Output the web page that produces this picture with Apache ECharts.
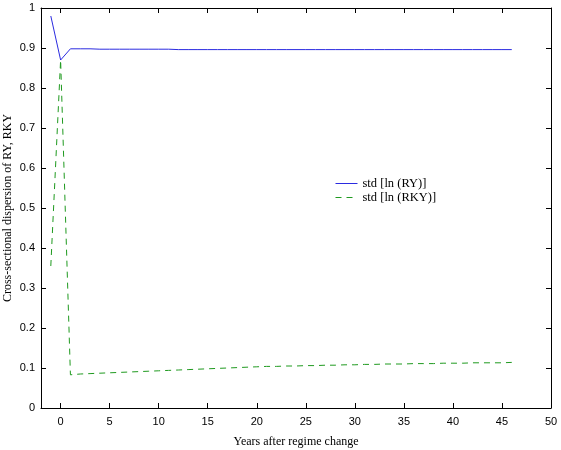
<!DOCTYPE html>
<html>
<head>
<meta charset="utf-8">
<script src="https://cdn.jsdelivr.net/npm/echarts@6/dist/echarts.min.js"></script>
<style>
  html, body { margin: 0; padding: 0; background: #fff; }
  #chart { width: 561px; height: 450px; }
</style>
</head>
<body>
<div id="chart"></div>
<script>
const years = [-1, 0, 1, 2, 3, 4, 5, 6, 7, 8, 9, 10, 11, 12, 13, 14, 15, 16, 17, 18, 19, 20,
  21, 22, 23, 24, 25, 26, 27, 28, 29, 30, 31, 32, 33, 34, 35, 36, 37, 38, 39, 40,
  41, 42, 43, 44, 45, 46];
const stdRY = [0.980, 0.870, 0.898, 0.898, 0.898, 0.897, 0.897, 0.897, 0.897, 0.897, 0.897,
  0.897, 0.897, 0.896, 0.896, 0.896, 0.896, 0.896, 0.896, 0.896, 0.896, 0.896, 0.896,
  0.896, 0.896, 0.896, 0.896, 0.896, 0.896, 0.896, 0.896, 0.896, 0.896, 0.896, 0.896,
  0.896, 0.896, 0.896, 0.896, 0.896, 0.896, 0.896, 0.896, 0.896, 0.896, 0.896, 0.896, 0.896];
const stdRKY = [0.355, 0.870, 0.083, 0.085, 0.086, 0.087, 0.088, 0.089, 0.090, 0.091, 0.092,
  0.093, 0.094, 0.095, 0.096, 0.097, 0.098, 0.099, 0.100, 0.101, 0.102, 0.103, 0.104,
  0.104, 0.105, 0.105, 0.106, 0.106, 0.107, 0.107, 0.108, 0.108, 0.109, 0.109, 0.110,
  0.110, 0.110, 0.111, 0.111, 0.111, 0.112, 0.112, 0.112, 0.113, 0.113, 0.113, 0.113, 0.114];
const xTicks = [0, 5, 10, 15, 20, 25, 30, 35, 40, 45, 50];
const seriesNames = ['std [ln (RY)]', 'std [ln (RKY)]'];

const chart = echarts.init(document.getElementById('chart'));

const zip = (ys) => years.map((x, i) => [x, ys[i]]);
const serif = '"Liberation Serif", "DejaVu Serif", serif';
const sans = '"Liberation Sans", Arial, sans-serif';

const tickStyle = { show: true, inside: true, length: 5, lineStyle: { color: '#000' } };
const lineStyleBlack = { show: true, onZero: false, lineStyle: { color: '#000', width: 1 } };

chart.setOption({
  animation: false,
  backgroundColor: '#fff',
  grid: { left: 41, right: 10, top: 8, bottom: 42, outerBoundsMode: 'none', containLabel: false },
  legend: {
    orient: 'vertical',
    left: 330,
    top: 172,
    itemGap: 1,
    itemWidth: 22,
    itemHeight: 12,
    itemStyle: { opacity: 0 },
    lineStyle: { width: 1 },
    textStyle: { fontFamily: serif, fontSize: 12.5, color: '#000' },
    data: seriesNames
  },
  xAxis: [{
    type: 'value',
    min: -2, max: 50,
    name: 'Years after regime change',
    nameLocation: 'middle',
    nameGap: 28,
    nameMoveOverlap: false,
    nameTextStyle: { fontFamily: serif, fontSize: 12, color: '#000' },
    axisLine: lineStyleBlack,
    axisTick: { ...tickStyle, customValues: xTicks },
    axisLabel: { fontFamily: sans, fontSize: 11, color: '#000', customValues: xTicks },
    splitLine: { show: false }
  }, {
    type: 'value', position: 'top', min: -2, max: 50,
    axisLine: lineStyleBlack,
    axisTick: { ...tickStyle, customValues: xTicks },
    axisLabel: { show: false },
    splitLine: { show: false }
  }],
  yAxis: [{
    type: 'value',
    min: 0, max: 1, interval: 0.1,
    name: 'Cross-sectional dispersion of RY, RKY',
    nameLocation: 'middle',
    nameGap: 27,
    nameMoveOverlap: false,
    nameTextStyle: { fontFamily: serif, fontSize: 12, color: '#000' },
    axisLine: lineStyleBlack,
    axisTick: tickStyle,
    axisLabel: {
      fontFamily: sans, fontSize: 11, color: '#000', margin: 6,
      formatter: (v) => (v === 0 || v === 1) ? String(v) : v.toFixed(1)
    },
    splitLine: { show: false }
  }, {
    type: 'value', position: 'right', min: 0, max: 1, interval: 0.1,
    axisLine: lineStyleBlack,
    axisTick: tickStyle,
    axisLabel: { show: false },
    splitLine: { show: false }
  }],
  series: [
    {
      name: seriesNames[0],
      type: 'line',
      symbol: 'none',
      data: zip(stdRY),
      itemStyle: { color: '#2b2be0' },
      lineStyle: { color: '#2b2be0', width: 1 }
    },
    {
      name: seriesNames[1],
      type: 'line',
      symbol: 'none',
      data: zip(stdRKY),
      itemStyle: { color: '#1f9a1f' },
      lineStyle: { color: '#1f9a1f', width: 1, type: [6, 5] }
    }
  ]
});
</script>
</body>
</html>
